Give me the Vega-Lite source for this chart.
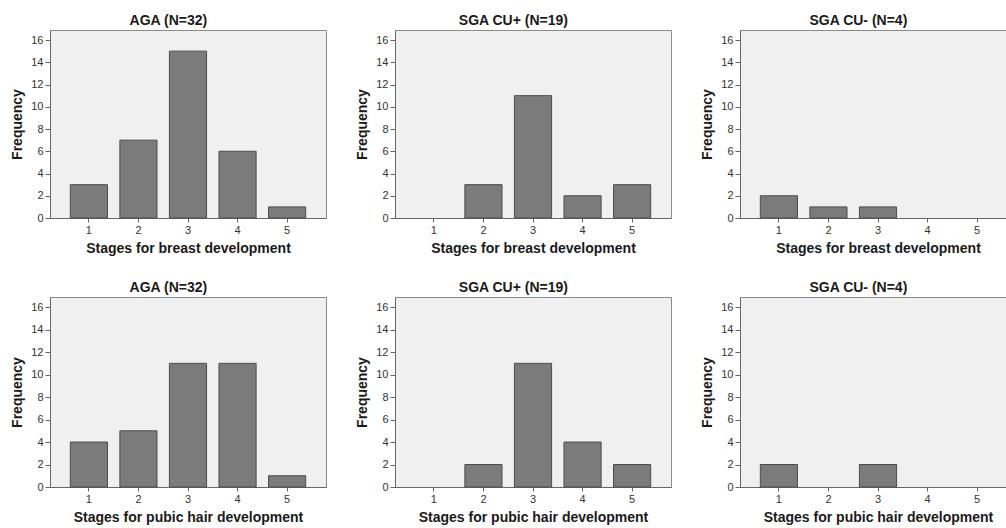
{
  "$schema": "https://vega.github.io/schema/vega-lite/v6.json",
  "padding": {"left": 10, "top": 13, "right": 0, "bottom": 0},
  "background": "white",
  "datasets": {
    "counts": [
      {"measure": "breast", "group": "AGA", "stage": 1, "freq": 3},
      {"measure": "breast", "group": "AGA", "stage": 2, "freq": 7},
      {"measure": "breast", "group": "AGA", "stage": 3, "freq": 15},
      {"measure": "breast", "group": "AGA", "stage": 4, "freq": 6},
      {"measure": "breast", "group": "AGA", "stage": 5, "freq": 1},
      {"measure": "breast", "group": "SGA CU+", "stage": 2, "freq": 3},
      {"measure": "breast", "group": "SGA CU+", "stage": 3, "freq": 11},
      {"measure": "breast", "group": "SGA CU+", "stage": 4, "freq": 2},
      {"measure": "breast", "group": "SGA CU+", "stage": 5, "freq": 3},
      {"measure": "breast", "group": "SGA CU-", "stage": 1, "freq": 2},
      {"measure": "breast", "group": "SGA CU-", "stage": 2, "freq": 1},
      {"measure": "breast", "group": "SGA CU-", "stage": 3, "freq": 1},
      {"measure": "pubic", "group": "AGA", "stage": 1, "freq": 4},
      {"measure": "pubic", "group": "AGA", "stage": 2, "freq": 5},
      {"measure": "pubic", "group": "AGA", "stage": 3, "freq": 11},
      {"measure": "pubic", "group": "AGA", "stage": 4, "freq": 11},
      {"measure": "pubic", "group": "AGA", "stage": 5, "freq": 1},
      {"measure": "pubic", "group": "SGA CU+", "stage": 2, "freq": 2},
      {"measure": "pubic", "group": "SGA CU+", "stage": 3, "freq": 11},
      {"measure": "pubic", "group": "SGA CU+", "stage": 4, "freq": 4},
      {"measure": "pubic", "group": "SGA CU+", "stage": 5, "freq": 2},
      {"measure": "pubic", "group": "SGA CU-", "stage": 1, "freq": 2},
      {"measure": "pubic", "group": "SGA CU-", "stage": 3, "freq": 2}
    ]
  },
  "data": {"name": "counts"},
  "spacing": 24,
  "vconcat": [
    {
      "spacing": 28,
      "hconcat": [
        {
          "title": "AGA (N=32)",
          "width": 276, "height": 188,
          "transform": [{"filter": "datum.measure === 'breast' && datum.group === 'AGA'"}],
          "mark": {"type": "bar", "color": "#7b7b7b", "stroke": "#4d4d4d", "strokeWidth": 1},
          "encoding": {
            "x": {"field": "stage", "type": "ordinal", "scale": {"domain": [1, 2, 3, 4, 5], "paddingInner": 0.25, "paddingOuter": 0.41}, "axis": {"title": "Stages for breast development"}},
            "y": {"field": "freq", "type": "quantitative", "scale": {"domain": [0, 16.9], "nice": false}, "axis": {"values": [0, 2, 4, 6, 8, 10, 12, 14, 16], "title": "Frequency"}}
          }
        },
        {
          "title": "SGA CU+ (N=19)",
          "width": 276, "height": 188,
          "transform": [{"filter": "datum.measure === 'breast' && datum.group === 'SGA CU+'"}],
          "mark": {"type": "bar", "color": "#7b7b7b", "stroke": "#4d4d4d", "strokeWidth": 1},
          "encoding": {
            "x": {"field": "stage", "type": "ordinal", "scale": {"domain": [1, 2, 3, 4, 5], "paddingInner": 0.25, "paddingOuter": 0.41}, "axis": {"title": "Stages for breast development"}},
            "y": {"field": "freq", "type": "quantitative", "scale": {"domain": [0, 16.9], "nice": false}, "axis": {"values": [0, 2, 4, 6, 8, 10, 12, 14, 16], "title": "Frequency"}}
          }
        },
        {
          "title": "SGA CU- (N=4)",
          "width": 276, "height": 188,
          "transform": [{"filter": "datum.measure === 'breast' && datum.group === 'SGA CU-'"}],
          "mark": {"type": "bar", "color": "#7b7b7b", "stroke": "#4d4d4d", "strokeWidth": 1},
          "encoding": {
            "x": {"field": "stage", "type": "ordinal", "scale": {"domain": [1, 2, 3, 4, 5], "paddingInner": 0.25, "paddingOuter": 0.41}, "axis": {"title": "Stages for breast development"}},
            "y": {"field": "freq", "type": "quantitative", "scale": {"domain": [0, 16.9], "nice": false}, "axis": {"values": [0, 2, 4, 6, 8, 10, 12, 14, 16], "title": "Frequency"}}
          }
        }
      ]
    },
    {
      "spacing": 28,
      "hconcat": [
        {
          "title": "AGA (N=32)",
          "width": 276, "height": 190,
          "transform": [{"filter": "datum.measure === 'pubic' && datum.group === 'AGA'"}],
          "mark": {"type": "bar", "color": "#7b7b7b", "stroke": "#4d4d4d", "strokeWidth": 1},
          "encoding": {
            "x": {"field": "stage", "type": "ordinal", "scale": {"domain": [1, 2, 3, 4, 5], "paddingInner": 0.25, "paddingOuter": 0.41}, "axis": {"title": "Stages for pubic hair development"}},
            "y": {"field": "freq", "type": "quantitative", "scale": {"domain": [0, 16.9], "nice": false}, "axis": {"values": [0, 2, 4, 6, 8, 10, 12, 14, 16], "title": "Frequency"}}
          }
        },
        {
          "title": "SGA CU+ (N=19)",
          "width": 276, "height": 190,
          "transform": [{"filter": "datum.measure === 'pubic' && datum.group === 'SGA CU+'"}],
          "mark": {"type": "bar", "color": "#7b7b7b", "stroke": "#4d4d4d", "strokeWidth": 1},
          "encoding": {
            "x": {"field": "stage", "type": "ordinal", "scale": {"domain": [1, 2, 3, 4, 5], "paddingInner": 0.25, "paddingOuter": 0.41}, "axis": {"title": "Stages for pubic hair development"}},
            "y": {"field": "freq", "type": "quantitative", "scale": {"domain": [0, 16.9], "nice": false}, "axis": {"values": [0, 2, 4, 6, 8, 10, 12, 14, 16], "title": "Frequency"}}
          }
        },
        {
          "title": "SGA CU- (N=4)",
          "width": 276, "height": 190,
          "transform": [{"filter": "datum.measure === 'pubic' && datum.group === 'SGA CU-'"}],
          "mark": {"type": "bar", "color": "#7b7b7b", "stroke": "#4d4d4d", "strokeWidth": 1},
          "encoding": {
            "x": {"field": "stage", "type": "ordinal", "scale": {"domain": [1, 2, 3, 4, 5], "paddingInner": 0.25, "paddingOuter": 0.41}, "axis": {"title": "Stages for pubic hair development"}},
            "y": {"field": "freq", "type": "quantitative", "scale": {"domain": [0, 16.9], "nice": false}, "axis": {"values": [0, 2, 4, 6, 8, 10, 12, 14, 16], "title": "Frequency"}}
          }
        }
      ]
    }
  ],
  "config": {
    "view": {"fill": "#f0f0f0", "stroke": "#8c8c8c", "strokeWidth": 1},
    "axis": {
      "grid": false,
      "labelFont": "Liberation Sans", "labelFontSize": 11, "labelColor": "#333333",
      "titleFont": "Liberation Sans", "titleFontSize": 14, "titleFontWeight": "bold", "titleColor": "#1a1a1a",
      "domainColor": "#666666", "tickColor": "#666666", "tickSize": 5, "labelPadding": 2, "titlePadding": 6
    },
    "axisX": {"labelAngle": 0, "tickSize": 4},
    "title": {"font": "Liberation Sans", "fontSize": 14, "fontWeight": "bold", "color": "#1a1a1a", "frame": "bounds", "anchor": "middle", "offset": 2}
  }
}
